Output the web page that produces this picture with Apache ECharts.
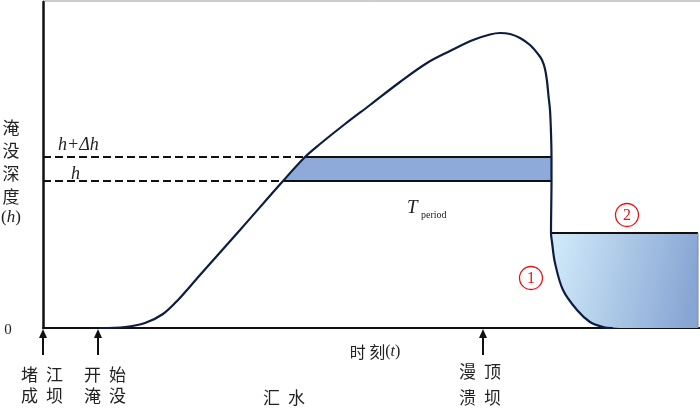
<!DOCTYPE html>
<html>
<head>
<meta charset="utf-8">
<script src="https://cdn.jsdelivr.net/npm/echarts@6/dist/echarts.min.js"></script>
<style>
  html, body { margin: 0; padding: 0; background: #fff; }
  #main { width: 700px; height: 408px; }
</style>
</head>
<body>
<div id="main"></div>
<script>
// rising limb of the inundation depth curve (time t, depth h), up to the peak
const riseT = [100, 125, 145, 163, 178, 200, 240, 283, 305, 320, 345, 370, 400, 427, 450, 473, 490];
const riseH = [0, 1, 5, 14, 28, 53, 98, 147, 171, 184, 204, 223, 246, 265, 277, 288, 293.5];
// falling limb: from the peak, down the dam-break drop, into the permanent zone
const fallT = [500, 510, 520, 530, 538, 542, 545, 547, 548.5, 550, 551, 551.5, 551.5, 551, 552, 555, 563, 577, 590, 603, 612];
const fallH = [295, 294, 290, 283, 274, 268, 259, 247, 232, 218, 195, 171, 147, 95, 86, 65, 38, 18, 6, 1, 0];

// depth levels h and h+Δh, and where the curve crosses them
const levelH = [147, 171];
const levelCrossT = [283, 305];
const dropT = 551.5;

// T_period band
const bandT = [283, 305, 551.5, 551.5];
const bandH = [147, 171, 171, 147];

// permanent inundation zone
const zoneT = [551, 552, 555, 563, 577, 590, 603, 620, 698, 698];
const zoneH = [95, 86, 65, 38, 18, 6, 1, 0, 0, 95];

// events on the time axis
const eventT = [43, 98, 483];
const eventLabels = [['堵江', '成坝'], ['开始', '淹没'], ['漫顶', '溃坝']];
const phaseT = [284];
const phaseLabels = ['汇水'];

const chart = echarts.init(document.getElementById('main'));

function polygon(ts, hs, fill) {
    return {
        type: 'custom',
        silent: true,
        data: [[ts[0], hs[0]]],
        renderItem: (params, api) => ({
            type: 'polygon',
            shape: { points: ts.map((t, i) => api.coord([t, hs[i]])) },
            style: { fill: fill }
        })
    };
}

function seg(data, color, width, type) {
    return {
        type: 'line',
        data: data,
        symbol: 'none',
        silent: true,
        lineStyle: { color: color, width: width, type: type || 'solid' },
        z: 3
    };
}

const curveT = riseT.concat(fallT);
const curveH = riseH.concat(fallH);

const zoneFill = new echarts.graphic.LinearGradient(0, 0, 1, 0.3, [
    { offset: 0, color: '#d2ecfa' },
    { offset: 1, color: '#88a6d4' }
]);

const series = [
    polygon(bandT, bandH, '#8eaad9'),
    polygon(zoneT, zoneH, zoneFill),
    {
        type: 'line',
        data: curveT.map((t, i) => [t, curveH[i]]),
        symbol: 'none',
        smooth: 0.35,
        silent: true,
        lineStyle: { color: '#0e1c40', width: 2.2, cap: 'round' },
        z: 4
    },
    seg([[zoneT[0], zoneH[0]], [zoneT[zoneT.length - 1], zoneH[zoneH.length - 1]]], '#111', 2),
    seg([[698, 95], [698, 0]], '#888', 1)
];
levelH.forEach((h, i) => {
    series.push(seg([[43, h], [levelCrossT[i], h]], '#111', 2, [8, 4]));
    series.push(seg([[levelCrossT[i], h], [dropT, h]], '#111', 2));
});

chart.setOption({
    animation: false,
    grid: { left: 43, right: 0, top: 2, bottom: 80 },
    xAxis: {
        type: 'value', min: 43, max: 700,
        axisLine: { show: true, onZero: false, lineStyle: { color: '#111', width: 2 } },
        axisTick: { show: false }, axisLabel: { show: false }, splitLine: { show: false }
    },
    yAxis: {
        type: 'value', min: 0, max: 326,
        axisLine: { show: true, onZero: false, lineStyle: { color: '#111', width: 2.5 } },
        axisTick: { show: false }, axisLabel: { show: false }, splitLine: { show: false }
    },
    series: series
});

const cjk = '"Noto Sans CJK SC", sans-serif';
const serif = '"Liberation Serif", "DejaVu Serif", serif';
const g = [];

function txt(x, y, s, font, fill, align) {
    g.push({
        type: 'text', x: x, y: y, silent: true,
        style: { text: s, font: font, fill: fill || '#222', align: align || 'center', verticalAlign: 'middle' }
    });
}
function spaced(cx, y, s, step, font, fill) {
    const chars = Array.from(s);
    chars.forEach((c, i) => txt(cx + (i - (chars.length - 1) / 2) * step, y, c, font, fill));
}

// faint top border
g.push({ type: 'line', silent: true, shape: { x1: 43, y1: 1, x2: 700, y2: 1 }, style: { stroke: '#999', lineWidth: 1 } });

// y axis title, stacked
['淹', '没', '深', '度'].forEach((c, i) => txt(11, 128 + i * 23, c, '17px ' + cjk, '#222'));
g.push({ type: 'text', x: 11, y: 218, silent: true, style: { rich: { a: { font: '17px ' + serif, fill: '#222' }, b: { font: 'italic 17px ' + serif, fill: '#222' } }, text: '{a|(}{b|h}{a|)}', align: 'center', verticalAlign: 'middle' } });
txt(8, 330, '0', '15px ' + serif, '#222');

// level labels
txt(58, 145, 'h+Δh', 'italic 18px ' + serif, '#222', 'left');
txt(71, 174, 'h', 'italic 18px ' + serif, '#222', 'left');

// T_period
txt(407, 208, 'T', 'italic 19px ' + serif, '#222', 'left');
txt(421, 215, 'period', '10px ' + serif, '#222', 'left');

// x axis title
g.push({ type: 'text', x: 375, y: 352, silent: true, style: { rich: { a: { font: '16px ' + cjk, fill: '#222' }, s: { font: '16px ' + serif, fill: '#222' }, t: { font: 'italic 16px ' + serif, fill: '#222' } }, text: '{a|时 刻}{s|(}{t|t}{s|)}', align: 'center', verticalAlign: 'middle' } });

// event arrows and labels
const baseY = chart.convertToPixel({ yAxisIndex: 0 }, 0);
eventT.forEach((t, i) => {
    const x = chart.convertToPixel({ xAxisIndex: 0 }, t);
    g.push({ type: 'line', silent: true, shape: { x1: x, y1: baseY + 27, x2: x, y2: baseY + 8 }, style: { stroke: '#111', lineWidth: 2 } });
    g.push({ type: 'polygon', silent: true, shape: { points: [[x - 4, baseY + 10], [x + 4, baseY + 10], [x, baseY + 1]] }, style: { fill: '#111' } });
    const cx = i === 0 ? 42 : (i === 1 ? 105 : x - 3);
    const y0 = i === 2 ? 372 : 375;
    spaced(cx, y0, eventLabels[i][0], 25, '17px ' + cjk, '#222');
    spaced(cx, y0 + (i === 2 ? 26 : 21), eventLabels[i][1], 25, '17px ' + cjk, '#222');
});
phaseT.forEach((t, i) => {
    const x = chart.convertToPixel({ xAxisIndex: 0 }, t);
    spaced(x, 398, phaseLabels[i], 25, '17px ' + cjk, '#222');
});

// permanent zone label and circled markers
spaced(624, 272, '永久淹没区', 22.5, '19px ' + cjk, '#222');
[[531, 278, '1'], [627, 215, '2']].forEach(m => {
    g.push({ type: 'circle', silent: true, shape: { cx: m[0], cy: m[1], r: 11.5 }, style: { fill: 'none', stroke: '#e3141b', lineWidth: 1.3 } });
    txt(m[0], m[1] + 1, m[2], '16px ' + serif, '#e3141b');
});

chart.setOption({ graphic: g });
</script>
</body>
</html>
